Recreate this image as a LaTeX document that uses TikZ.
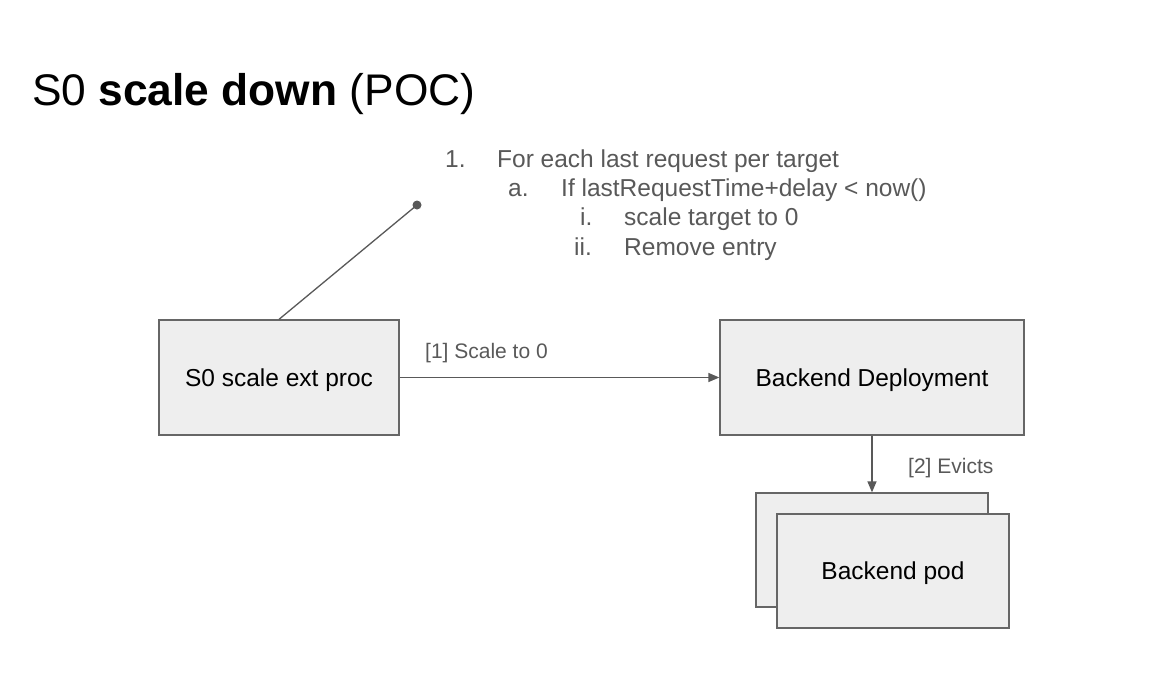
\documentclass[tikz,border=0pt]{standalone}
\usepackage{fontspec}
\setmainfont{Liberation Sans}
\usetikzlibrary{arrows.meta}
\definecolor{boxfill}{HTML}{EEEEEE}
\definecolor{boxline}{HTML}{666666}
\definecolor{graytext}{HTML}{595959}
\definecolor{conn}{HTML}{595959}
\begin{document}
\begin{tikzpicture}[x=1pt,y=-1pt,
  box/.style={draw=boxline,fill=boxfill,line width=1.3pt,inner sep=0pt,
    font=\fontsize{24.5}{29}\selectfont,text=black,text height=17.5pt,text depth=0pt},
  conn/.style={draw=conn,line width=1.3pt},
  arr/.style={conn,-{Triangle[length=11pt,width=9pt]}},
  lbl/.style={font=\fontsize{21}{25}\selectfont,text=graytext,inner sep=0pt,anchor=base west},
  listtxt/.style={font=\fontsize{24.5}{29}\selectfont,text=graytext,inner sep=0pt,anchor=base west}
]
\useasboundingbox (0,0) rectangle (1169,681);
\fill[white] (0,0) rectangle (1169,681);

% title
\node[inner sep=0pt,anchor=base west,font=\fontsize{44.3}{52}\selectfont] (title) at (32,105) {S0 \textbf{scale down} (POC)};

% boxes
\node[box,minimum width=240pt,minimum height=115pt] (ext) at (279,377.5) {S0 scale ext proc};
\node[box,minimum width=304pt,minimum height=115pt] (dep) at (872,377.5) {Backend Deployment};
\node[box,minimum width=232pt,minimum height=114pt] (podb) at (872,550) {};
\node[box,minimum width=232pt,minimum height=114pt] (podf) at (893,571) {Backend pod};

% annotation list
\node[listtxt] (n1) at (445,167) {1.};
\node[listtxt] (t1) at (497,167) {For each last request per target};
\node[listtxt] (na) at (508,196.5) {a.};
\node[listtxt] (ta) at (561,196.5) {If lastRequestTime+delay < now()};
\node[listtxt] (ni) at (580,225.5) {i.};
\node[listtxt] (ti) at (624,225.5) {scale target to 0};
\node[listtxt] (nii) at (574,255) {ii.};
\node[listtxt] (tii) at (624,255) {Remove entry};

% callout line with dot
\node[circle,fill=conn,inner sep=0pt,minimum size=9pt] (dot) at (417,205) {};
\draw[conn] (ext.north) -- (dot.center);

% connectors
\draw[arr] (ext.east) -- (dep.west);
\node[lbl] (l1) at (425,358) {[1] Scale to 0};
\draw[arr] (dep.south) -- (podb.north);
\node[lbl] (l2) at (908,473) {[2] Evicts};
\end{tikzpicture}
\end{document}
